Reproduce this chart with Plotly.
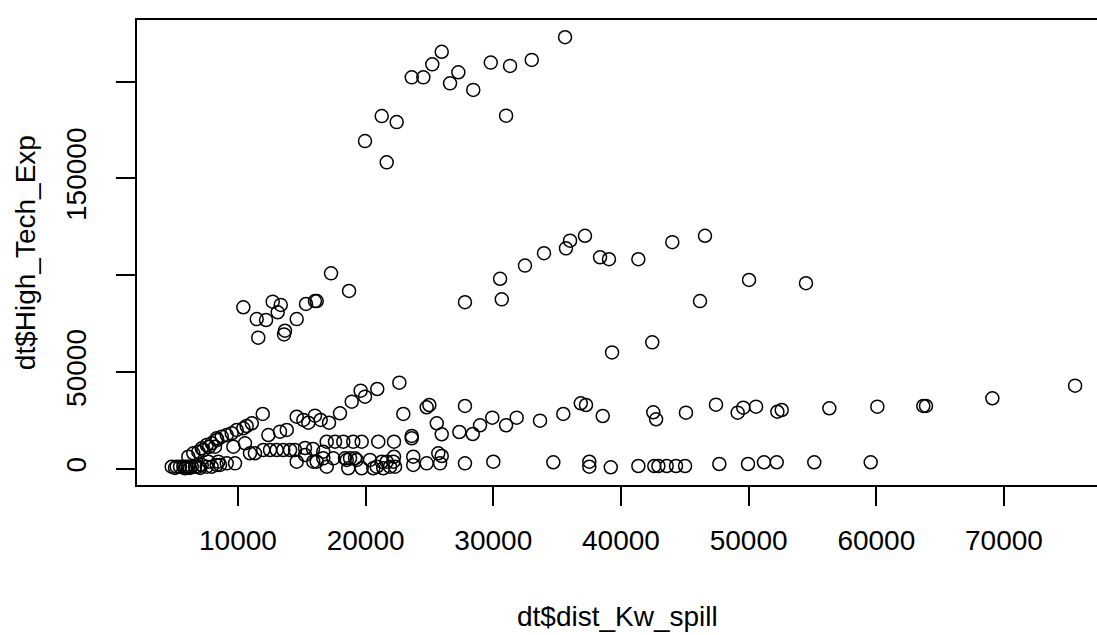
import plotly.graph_objects as go

# dt$dist_Kw_spill (x) and dt$High_Tech_Exp (y)
dist_kw_spill = [
    # upper cluster
    25960, 25220, 24520, 23610, 21260, 22430, 19950, 21650, 27260, 26610, 28430, 29800, 31310, 33010, 35620, 31000,
    # middle cluster
    17290, 18700, 10420, 12720, 13350, 13110, 11470, 12200, 11590, 13680, 13610, 14600, 15330, 16030, 16170,
    27780, 30530, 30660, 32480, 33970, 35690, 36010, 37180, 38360, 39060, 41360, 44020, 46580, 46190, 50030,
    39300, 42450, 54490,
    # bottom-left
    4810, 5070, 5200, 5460, 5720, 5850, 5930, 6110, 6240, 6380, 6640, 6890, 7030, 7160, 7550, 7680, 7940,
    8330, 8460, 8590, 9120, 9770,
    # rising band
    6110, 6500, 6890, 7160, 7290, 7550, 7730, 7940, 8200, 8330, 8380, 8730, 9120, 9510, 9900, 10420, 10680,
    11080, 11940, 12380, 13290, 13820, 14600, 15120, 15510, 16030, 16480, 17130, 17990, 18910, 19610, 19950,
    20910, 22640, 22950, 24780, 24990, 27780,
    # middle row
    9640, 10550, 10940, 11330, 11980, 12510, 13030, 13550, 14080, 14470, 15250, 15880, 16680, 16950, 17600,
    18250, 19030, 19690, 20990, 22220, 23610, 23610, 25690, 25960, 27340, 28390, 28960, 25570,
    # upper horizontal band
    29920, 31000, 31830, 33660, 35480, 36850, 37260, 38570, 42530, 42750, 45090, 47440, 49140, 49580, 50580,
    52250, 52590, 56320, 60080, 63680, 63890, 69090, 75570,
    # bottom row
    14600, 15250, 15900, 16170, 16680, 16950, 17470, 18380, 18520, 18640, 18780, 19170, 19300, 19690, 20340,
    20600, 20870, 21260, 21380, 21650, 21910, 22170, 22220, 22300, 23730, 23730, 24780, 25830, 25960, 27780,
    30000, 34700, 37520, 37520, 39200, 41360, 42610, 42930, 43580, 44310, 45020, 47700, 49950, 51200, 52200,
    55140, 59560,
]

high_tech_exp = [
    # upper cluster
    215400, 208900, 202200, 202200, 182200, 179100, 169300, 158300, 204800, 199100, 195700, 209800, 208100, 211200, 222900, 182400,
    # middle cluster
    101000, 91900, 83500, 86400, 84700, 80900, 77400, 76900, 67800, 71400, 69500, 77400, 85200, 86700, 86700,
    86100, 98200, 87600, 105000, 111400, 113900, 117900, 120400, 109300, 108300, 108300, 117100, 120400, 86700, 97600,
    60200, 65400, 95900,
    # bottom-left
    1190, 520, 1190, 1190, 1190, 360, 1190, 1190, 520, 1190, 1190, 1190, 520, 2070, 1190, 3770, 1190,
    2070, 3770, 2070, 2940, 2940,
    # rising band
    6350, 8110, 8930, 10690, 9810, 12390, 11360, 13270, 11510, 15850, 15000, 16680, 17550, 18430, 20140, 21010, 22200,
    23600, 28400, 17550, 19260, 20140, 27000, 25300, 23900, 27520, 25300, 23900, 28760, 34750, 40430, 37330,
    41300, 44560, 28400, 31860, 33040, 32530,
    # middle row
    11510, 13270, 8110, 8110, 9810, 9810, 9810, 9810, 9810, 9810, 10840, 10330, 8930, 14090, 14090,
    14090, 14090, 14090, 14090, 14090, 15850, 17040, 8110, 17920, 19100, 18070, 22560, 23600,
    # upper horizontal band
    26490, 22560, 26490, 24940, 28400, 33920, 33040, 27360, 29270, 25660, 29070, 33200, 29070, 31650, 32170,
    29580, 30460, 31340, 32170, 32530, 32530, 36500, 43010,
    # bottom row
    3770, 7230, 3770, 3770, 5520, 1190, 5520, 5520, 4650, 360, 5520, 5520, 4650, 360, 4650,
    360, 1190, 3770, 360, 3770, 1190, 3770, 6350, 1190, 6350, 2070, 2940, 2940, 6710, 2940,
    3770, 3460, 3770, 1190, 880, 1550, 1550, 1550, 1550, 1550, 1550, 2580, 2580, 3460, 3460,
    3460, 3460,
]

x_tick_vals = [10000, 20000, 30000, 40000, 50000, 60000, 70000]
x_tick_text = ["10000", "20000", "30000", "40000", "50000", "60000", "70000"]
y_tick_vals = [0, 50000, 100000, 150000, 200000]
y_tick_text = ["0", "50000", "", "150000", ""]

x_title = "dt$dist_Kw_spill"
y_title = "dt$High_Tech_Exp"

FONT = "Liberation Sans, Arial, sans-serif"
FS = 28

fig = go.Figure(
    go.Scatter(
        x=dist_kw_spill,
        y=high_tech_exp,
        mode="markers",
        marker=dict(symbol="circle-open", size=13, color="black", line=dict(width=1.5, color="black")),
        hoverinfo="x+y",
    )
)

fig.update_layout(
    template="none",
    width=1097,
    height=635,
    margin=dict(l=137, r=0, t=20, b=150, pad=0),
    paper_bgcolor="white",
    plot_bgcolor="white",
    showlegend=False,
    font=dict(family=FONT, size=FS, color="black"),
    xaxis=dict(
        range=[2091, 77285],
        automargin=False,
        tickvals=x_tick_vals,
        ticktext=x_tick_text,
        ticks="outside",
        ticklen=19,
        tickwidth=1.5,
        tickcolor="black",
        showline=True,
        linecolor="black",
        linewidth=1.5,
        mirror=True,
        showgrid=False,
        zeroline=False,
        ticklabelstandoff=11,
        tickfont=dict(family=FONT, size=FS, color="black"),
    ),
    yaxis=dict(
        range=[-8260, 231800],
        automargin=False,
        tickvals=y_tick_vals,
        ticktext=y_tick_text,
        tickangle=-90,
        ticks="outside",
        ticklen=19,
        tickwidth=1.5,
        tickcolor="black",
        showline=True,
        linecolor="black",
        linewidth=1.5,
        mirror=False,
        showgrid=False,
        zeroline=False,
        ticklabelstandoff=19,
        tickfont=dict(family=FONT, size=FS, color="black"),
    ),
    annotations=[
        dict(text=x_title, x=0.5, y=-0.282, xref="paper", yref="paper", xanchor="center", yanchor="middle",
             showarrow=False, font=dict(family=FONT, size=FS, color="black")),
        dict(text=y_title, x=-0.116, y=0.5, xref="paper", yref="paper", xanchor="center", yanchor="middle",
             textangle=-90, showarrow=False, font=dict(family=FONT, size=FS, color="black")),
    ],
)

# remove the browser's default 8px page margin so the figure sits at the window's top-left corner
fig.write_html(
    "out.html",
    config={"displayModeBar": False},
    post_script="document.body.style.margin='0';document.body.style.padding='0';document.documentElement.style.overflow='hidden';",
)
